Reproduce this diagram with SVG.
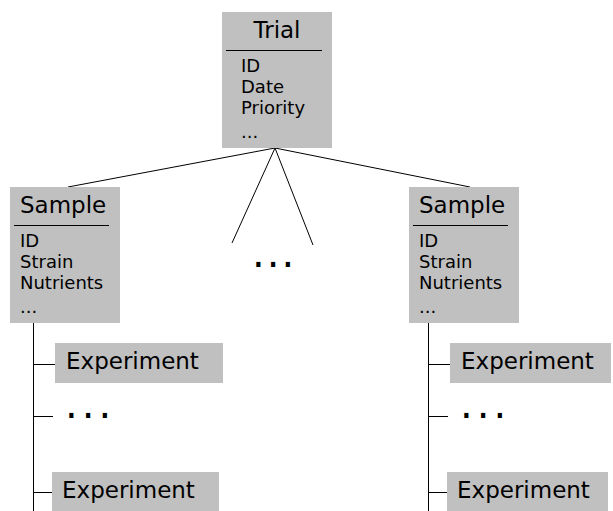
<svg xmlns="http://www.w3.org/2000/svg" width="613" height="511" viewBox="0 0 613 511">
<style>
.box{fill:#c0c0c0;}
.t{font-family:"DejaVu Sans",sans-serif;fill:#000;}
.title{font-size:23px;}
.f{font-size:18px;}
.dots{font-family:"DejaVu Sans",sans-serif;font-size:40px;letter-spacing:2px;}
.dots2{letter-spacing:4px;}
.ln{stroke:#000;stroke-width:1;fill:none;}
.div{stroke:#000;stroke-width:1;}
</style>
<rect width="613" height="511" fill="#fff"/>
<g id="connectors">
<line class="ln" x1="275" y1="148" x2="68" y2="187"/>
<line class="ln" x1="275" y1="148" x2="470" y2="187"/>
<line class="ln" x1="275" y1="148" x2="232" y2="243" stroke="#555"/>
<line class="ln" x1="275" y1="148" x2="313" y2="245" stroke="#555"/>
<line class="ln" x1="33.5" y1="323" x2="33.5" y2="511"/>
<line class="ln" x1="33" y1="364.5" x2="55" y2="364.5"/>
<line class="ln" x1="33" y1="416.5" x2="53" y2="416.5" stroke="#555"/>
<line class="ln" x1="33" y1="492.5" x2="52" y2="492.5" stroke="#555"/>
<line class="ln" x1="428.5" y1="323" x2="428.5" y2="511"/>
<line class="ln" x1="428" y1="364.5" x2="450" y2="364.5"/>
<line class="ln" x1="428" y1="416.5" x2="448" y2="416.5" stroke="#555"/>
<line class="ln" x1="428" y1="492.5" x2="447" y2="492.5" stroke="#555"/>
</g>
<g id="trial">
<rect class="box" x="222" y="12" width="110" height="136"/>
<text class="t title" x="277" y="38" text-anchor="middle">Trial</text>
<line class="div" x1="226" y1="50.5" x2="322" y2="50.5"/>
<text class="t f" x="241" y="72">ID</text>
<text class="t f" x="241" y="93">Date</text>
<text class="t f" x="241" y="114">Priority</text>
<text class="t f" x="241" y="138" font-size="14">...</text>
</g>
<g id="mid-dots">
<text class="dots" x="252" y="267">...</text>
</g>
<g id="sample-left">
<rect class="box" x="10" y="187" width="110" height="136"/>
<text class="t title" x="20" y="213">Sample</text>
<line class="div" x1="14" y1="225.5" x2="109" y2="225.5"/>
<text class="t f" x="20" y="247">ID</text>
<text class="t f" x="20" y="268">Strain</text>
<text class="t f" x="20" y="289">Nutrients</text>
<text class="t f" x="20" y="313" font-size="14">...</text>
</g>
<g id="sample-right">
<rect class="box" x="409" y="187" width="110" height="136"/>
<text class="t title" x="419" y="213">Sample</text>
<line class="div" x1="413" y1="225.5" x2="508" y2="225.5"/>
<text class="t f" x="419" y="247">ID</text>
<text class="t f" x="419" y="268">Strain</text>
<text class="t f" x="419" y="289">Nutrients</text>
<text class="t f" x="419" y="313" font-size="14">...</text>
</g>
<g id="exp-left-1">
<rect class="box" x="55" y="343" width="168" height="40"/>
<text class="t title" x="66" y="369">Experiment</text>
</g>
<g id="dots-left">
<text class="dots dots2" x="65" y="418">...</text>
</g>
<g id="exp-left-2">
<rect class="box" x="52" y="472" width="167" height="39"/>
<text class="t title" x="62" y="498">Experiment</text>
</g>
<g id="exp-right-1">
<rect class="box" x="450" y="343" width="161" height="40"/>
<text class="t title" x="461" y="369">Experiment</text>
</g>
<g id="dots-right">
<text class="dots dots2" x="460" y="418">...</text>
</g>
<g id="exp-right-2">
<rect class="box" x="447" y="472" width="161" height="39"/>
<text class="t title" x="457" y="498">Experiment</text>
</g>
</svg>
